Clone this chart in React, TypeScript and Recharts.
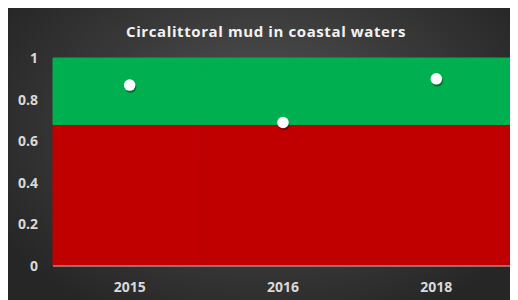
import React from 'react';
import { ComposedChart, Bar, Line, XAxis, YAxis } from 'recharts';

const years = ['2015', '2016', '2018'];
const lowBand = [0.68, 0.68, 0.68];
const highBand = [0.32, 0.32, 0.32];
const values = [0.87, 0.69, 0.9];
const yTicks = [0, 0.2, 0.4, 0.6, 0.8, 1];

const data = years.map((y, i) => ({ year: y, low: lowBand[i], high: highBand[i], value: values[i] }));

const FONT = '"Open Sans", "Liberation Sans", sans-serif';

const Dot = (props: any) => {
  const { cx, cy } = props;
  if (cx == null || cy == null) return null;
  return (
    <g>
      <circle cx={cx + 1} cy={cy + 2} r={5.8} fill="rgba(0,0,0,0.35)" />
      <circle cx={cx} cy={cy} r={5.8} fill="#ffffff" />
    </g>
  );
};

export default function App() {
  return (
    <div
      style={{
        position: 'relative',
        width: 510,
        height: 292,
        background: 'radial-gradient(ellipse 60% 75% at 50% 40%, #555555 0%, #3a3a3a 55%, #262626 100%)',
      }}
    >
      <div
        style={{
          position: 'absolute',
          top: 13,
          left: 0,
          width: 516,
          textAlign: 'center',
          color: '#f2f2f2',
          fontFamily: FONT,
          fontWeight: 700,
          fontSize: 15,
          letterSpacing: 0.6,
        }}
      >
        Circalittoral mud in coastal waters
      </div>
      <ComposedChart
        width={510}
        height={292}
        data={data}
        margin={{ top: 50, right: 5, left: 0, bottom: 0 }}
        barCategoryGap={0}
        style={{ position: 'absolute', top: 0, left: 0 }}
      >
        <XAxis
          dataKey="year"
          tickLine={false}
          axisLine={{ stroke: '#bfbfbf', strokeWidth: 1 }}
          height={34}
          tickMargin={10}
          tick={{ fill: '#d9d9d9', fontSize: 14, fontWeight: 700, fontFamily: FONT }}
        />
        <YAxis
          domain={[0, 1]}
          ticks={yTicks}
          width={45}
          tickLine={false}
          axisLine={false}
          tickMargin={9}
          tick={{ fill: '#d9d9d9', fontSize: 14, fontWeight: 700, fontFamily: FONT }}
        />
        <Bar dataKey="low" stackId="a" fill="#C00000" stroke="#C00000" strokeWidth={1} isAnimationActive={false} />
        <Bar dataKey="high" stackId="a" fill="#00B050" stroke="#00B050" strokeWidth={1} isAnimationActive={false} />
        <Line
          dataKey="value"
          stroke="none"
          dot={<Dot />}
          activeDot={false}
          isAnimationActive={false}
        />
      </ComposedChart>
    </div>
  );
}
